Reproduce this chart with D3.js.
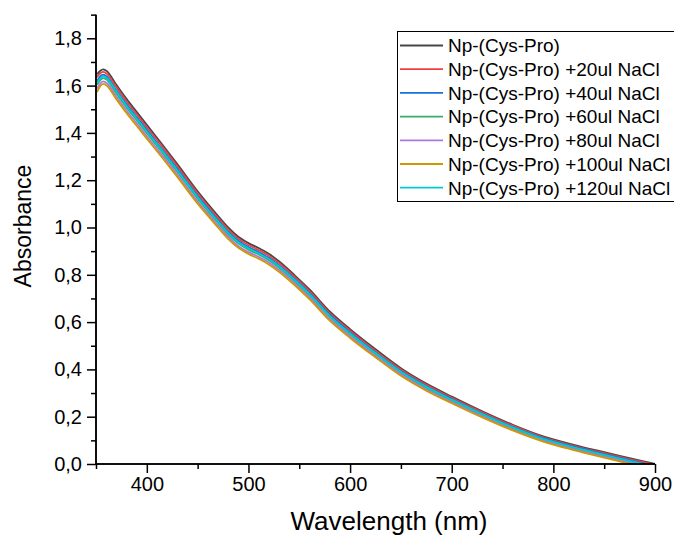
<!DOCTYPE html>
<html>
<head>
<meta charset="utf-8">
<script src="https://cdn.jsdelivr.net/npm/d3@7"></script>
<style>
  html, body { margin: 0; padding: 0; background: #fff; }
  svg { display: block; font-family: "Liberation Sans", Arial, sans-serif; }
</style>
</head>
<body>
<svg id="chart" width="674" height="535"></svg>
<script>
// ---- Data ----
const wavelengths = [351, 354, 357, 361, 369, 380, 390, 400, 415, 430, 450, 460, 470, 480, 490, 500, 510, 520, 530, 545, 560, 580, 600, 625, 650, 675, 700, 730, 760, 790, 820, 850, 875, 900];

const seriesNames = [
  "Np-(Cys-Pro)",
  "Np-(Cys-Pro) +20ul NaCl",
  "Np-(Cys-Pro) +40ul NaCl",
  "Np-(Cys-Pro) +60ul NaCl",
  "Np-(Cys-Pro) +80ul NaCl",
  "Np-(Cys-Pro) +100ul NaCl",
  "Np-(Cys-Pro) +120ul NaCl"
];

const seriesColors = ["#474747", "#F14040", "#1A6FDF", "#37AD6B", "#B177DE", "#CC9900", "#00CBCC"];

const absCysPro = [1.648, 1.662, 1.669, 1.660, 1.610, 1.544, 1.489, 1.434, 1.352, 1.268, 1.153, 1.100, 1.049, 1.000, 0.961, 0.934, 0.913, 0.889, 0.857, 0.800, 0.738, 0.645, 0.570, 0.485, 0.405, 0.340, 0.285, 0.223, 0.166, 0.117, 0.081, 0.050, 0.025, 0.000];
const abs20 = [1.635, 1.651, 1.658, 1.649, 1.600, 1.534, 1.479, 1.424, 1.343, 1.259, 1.144, 1.092, 1.041, 0.992, 0.953, 0.926, 0.905, 0.881, 0.850, 0.793, 0.731, 0.638, 0.564, 0.479, 0.400, 0.335, 0.280, 0.219, 0.162, 0.113, 0.077, 0.046, 0.021, -0.004];
const abs40 = [1.620, 1.638, 1.646, 1.637, 1.587, 1.522, 1.467, 1.413, 1.331, 1.248, 1.134, 1.082, 1.031, 0.982, 0.944, 0.917, 0.896, 0.872, 0.841, 0.785, 0.723, 0.631, 0.556, 0.472, 0.393, 0.329, 0.275, 0.213, 0.157, 0.109, 0.073, 0.042, 0.016, -0.009];
const abs60 = [1.603, 1.622, 1.632, 1.623, 1.573, 1.508, 1.454, 1.399, 1.318, 1.236, 1.122, 1.070, 1.020, 0.971, 0.933, 0.906, 0.886, 0.862, 0.831, 0.775, 0.713, 0.622, 0.548, 0.465, 0.386, 0.322, 0.268, 0.207, 0.152, 0.104, 0.068, 0.036, 0.011, -0.015];
const abs80 = [1.587, 1.608, 1.618, 1.609, 1.560, 1.495, 1.441, 1.386, 1.306, 1.224, 1.110, 1.059, 1.009, 0.961, 0.922, 0.896, 0.876, 0.852, 0.821, 0.766, 0.704, 0.613, 0.540, 0.457, 0.379, 0.315, 0.262, 0.202, 0.146, 0.099, 0.063, 0.031, 0.005, -0.021];
const abs100 = [1.573, 1.596, 1.607, 1.598, 1.549, 1.484, 1.430, 1.376, 1.296, 1.214, 1.101, 1.050, 1.000, 0.952, 0.914, 0.888, 0.868, 0.844, 0.813, 0.758, 0.697, 0.606, 0.533, 0.451, 0.373, 0.310, 0.257, 0.197, 0.142, 0.095, 0.059, 0.027, 0.001, -0.025];
const abs120 = [1.612, 1.630, 1.639, 1.630, 1.581, 1.515, 1.461, 1.406, 1.325, 1.242, 1.128, 1.076, 1.026, 0.977, 0.938, 0.912, 0.891, 0.867, 0.836, 0.780, 0.718, 0.626, 0.552, 0.469, 0.390, 0.326, 0.272, 0.211, 0.155, 0.106, 0.070, 0.039, 0.013, -0.012];

const seriesValues = [absCysPro, abs20, abs40, abs60, abs80, abs100, abs120];

const xMajorTicks = [400, 500, 600, 700, 800, 900];
const xMinorTicks = [350, 450, 550, 650, 750, 850];
const yMajorTicks = [0.0, 0.2, 0.4, 0.6, 0.8, 1.0, 1.2, 1.4, 1.6, 1.8];
const yMinorTicks = [0.1, 0.3, 0.5, 0.7, 0.9, 1.1, 1.3, 1.5, 1.7, 1.9];
const yTickLabels = ["0,0", "0,2", "0,4", "0,6", "0,8", "1,0", "1,2", "1,4", "1,6", "1,8"];

// ---- Layout ----
const svg = d3.select("#chart");
const pLeft = 96, pRight = 655, pTop = 14.65, pBottom = 464;

const x = d3.scaleLinear().domain([350, 900]).range([pLeft, pRight]);
const y = d3.scaleLinear().domain([0, 1.9]).range([pBottom, pTop]);

svg.append("defs").append("clipPath").attr("id", "plotclip")
  .append("rect").attr("x", pLeft).attr("y", pTop - 5).attr("width", pRight - pLeft + 1).attr("height", pBottom - pTop + 5);

// Curves
const line = d3.line().x(d => x(d[0])).y(d => y(d[1])).curve(d3.curveMonotoneX);
const g = svg.append("g").attr("clip-path", "url(#plotclip)");
seriesValues.forEach((vals, i) => {
  g.append("path")
    .datum(wavelengths.map((w, j) => [w, vals[j]]))
    .attr("d", line)
    .attr("fill", "none")
    .attr("stroke", seriesColors[i])
    .attr("stroke-width", 1.8);
});

// X axis
const xAxis = svg.append("g").attr("transform", `translate(0,${pBottom})`);
xAxis.call(d3.axisBottom(x).tickValues(xMajorTicks).tickSize(9).tickPadding(4).tickFormat(d3.format("d")));
xAxis.append("g").call(d3.axisBottom(x).tickValues(xMinorTicks).tickSize(5).tickFormat(""));
xAxis.selectAll(".domain").attr("stroke", "#000").attr("stroke-width", 1.5).attr("d", `M${pLeft},0H${pRight}`);
xAxis.selectAll(".tick line").attr("stroke", "#000").attr("stroke-width", 1.5);
xAxis.selectAll("text").attr("font-size", 20).attr("fill", "#000").attr("font-family", "Liberation Sans, Arial, sans-serif");

// Y axis
const yAxis = svg.append("g").attr("transform", `translate(${pLeft},0)`);
yAxis.call(d3.axisLeft(y).tickValues(yMajorTicks).tickSize(9).tickPadding(5).tickFormat((d, i) => yTickLabels[i]));
yAxis.append("g").call(d3.axisLeft(y).tickValues(yMinorTicks).tickSize(5).tickFormat(""));
yAxis.selectAll(".domain").attr("stroke", "#000").attr("stroke-width", 1.5).attr("d", `M0,${pTop}V${pBottom}`);
yAxis.selectAll(".tick line").attr("stroke", "#000").attr("stroke-width", 1.5);
yAxis.selectAll("text").attr("font-size", 20).attr("fill", "#000").attr("font-family", "Liberation Sans, Arial, sans-serif");

// Axis titles
svg.append("text")
  .attr("x", 389).attr("y", 530)
  .attr("text-anchor", "middle").attr("font-size", 26).attr("fill", "#000")
  .text("Wavelength (nm)");
svg.append("text")
  .attr("transform", `translate(31,226) rotate(-90)`)
  .attr("text-anchor", "middle").attr("font-size", 23).attr("fill", "#000")
  .text("Absorbance");

// Legend
const lg = svg.append("g");
lg.append("rect").attr("x", 397.5).attr("y", 31.5).attr("width", 300).attr("height", 170)
  .attr("fill", "#fff").attr("stroke", "#000").attr("stroke-width", 1);
seriesNames.forEach((name, i) => {
  const cy = 45.5 + i * 23.7;
  lg.append("line").attr("x1", 400).attr("x2", 443).attr("y1", cy).attr("y2", cy)
    .attr("stroke", seriesColors[i]).attr("stroke-width", 1.8);
  lg.append("text").attr("x", 448).attr("y", cy).attr("dy", "0.36em")
    .attr("font-size", 19).attr("fill", "#000").text(name);
});
</script>
</body>
</html>
